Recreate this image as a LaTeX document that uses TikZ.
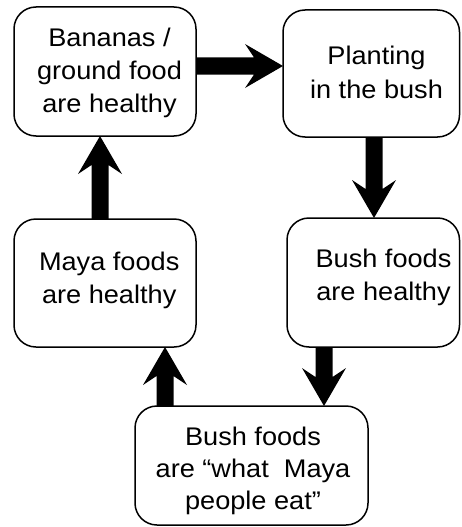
\documentclass[tikz,border=0pt]{standalone}
\usepackage{fontspec}
\setmainfont{Liberation Sans}[FakeStretch=1.065]
\usetikzlibrary{calc}
\tikzset{
  box/.style={draw=black, line width=1.5pt, rounded corners=22pt, fill=white, inner sep=0pt, outer sep=0pt},
  txt/.style={align=center, inner sep=0pt, outer sep=0pt, font=\fontsize{25.5}{33}\selectfont},
  bigfill/.style={fill=black},
}
\newcommand\bigarr[2]{%
  \path (#2) coordinate (T) ($(#2)!29pt!(#1)$) coordinate (H) ($(#2)!38pt!(#1)$) coordinate (K);
  \fill[bigfill] ($(#1)!8.5pt!90:(T)$) -- ($(H)!8.5pt!90:(T)$) -- ($(K)!22pt!90:(T)$) -- (T)
     -- ($(K)!22pt!-90:(T)$) -- ($(H)!8.5pt!-90:(T)$) -- ($(#1)!8.5pt!-90:(T)$) -- cycle;
}
\begin{document}
\begin{tikzpicture}[x=1pt,y=-1pt]
\useasboundingbox (0,0) rectangle (461,527);
% boxes
\node[box, minimum width=182pt, minimum height=129pt] (b1) at (105,71.5) {};
\node[box, minimum width=176.5pt, minimum height=127pt] (b2) at (371.25,73.5) {};
\node[box, minimum width=172.5pt, minimum height=129pt] (b3) at (373.25,282.5) {};
\node[box, minimum width=182pt, minimum height=128pt] (b4) at (105,283) {};
\node[box, minimum width=233pt, minimum height=119pt] (b5) at (251.5,465.5) {};
% texts
\node[txt] (t1) at (109.5,72.4) {\strut Bananas /\\\strut ground food\\\strut are healthy};
\node[txt] (t2) at (376.5,74.9) {\strut Planting\\\strut in the bush};
\node[txt] (t3) at (383.5,277.4) {\strut Bush foods\\\strut are healthy};
\node[txt] (t4) at (109.2,279.9) {\strut Maya foods\\\strut are healthy};
\node[txt, font=\fontsize{25.5}{32}\selectfont] (t5) at (253,470.6) {\strut Bush foods\\\strut are “what~ Maya\\\strut people eat”};
% connectors
\coordinate (a1s) at ([yshift=5.5pt]b1.east);
\coordinate (a1e) at ([yshift=7.5pt]b2.west);
\coordinate (a2s) at ([xshift=2.75pt]b2.south);
\coordinate (a2e) at ([xshift=0.75pt]b3.north);
\coordinate (a3s) at ([xshift=-49.25pt]b3.south);
\coordinate (a3e) at ([xshift=72.5pt]b5.north);
\coordinate (a4s) at ([xshift=-86.5pt]b5.north);
\coordinate (a4e) at ([xshift=60pt]b4.south);
\coordinate (a5s) at ([xshift=-5pt]b4.north);
\coordinate (a5e) at ([xshift=-5pt]b1.south);
\bigarr{a1s}{a1e}
\bigarr{a2s}{a2e}
\bigarr{a3s}{a3e}
\bigarr{a4s}{a4e}
\bigarr{a5s}{a5e}
\end{tikzpicture}
\end{document}
